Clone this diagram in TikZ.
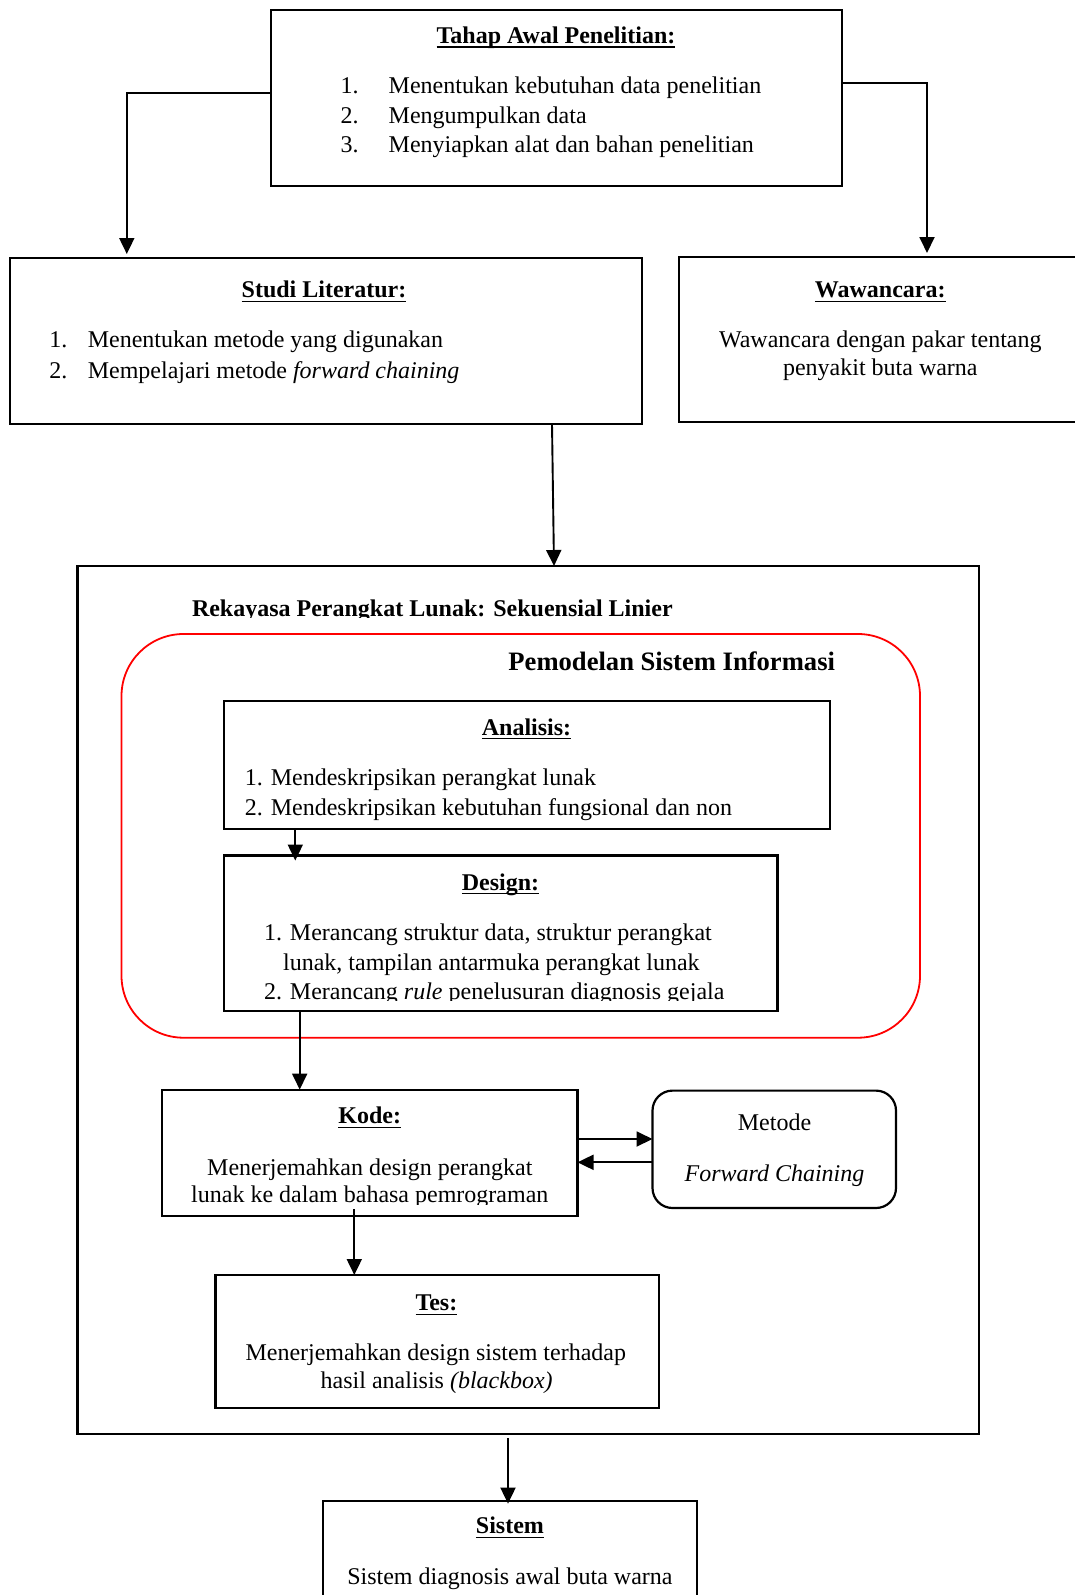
\documentclass[tikz,border=0pt]{standalone}
\usepackage{fontspec}
\setmainfont{Liberation Serif}
\usetikzlibrary{arrows.meta}

% one unit = one pixel of the layout grid, y runs downwards
\tikzset{
  x=0.5pt, y=-0.5pt,
  box/.style={draw, line width=1.1pt, inner sep=0pt, outer sep=0pt},
  roundbox/.style={box, rounded corners=10pt},
  groupbox/.style={draw=red, line width=0.9pt, rounded corners=31pt, inner sep=0pt, outer sep=0pt},
  txt/.style={inner sep=0pt, outer sep=0pt, anchor=base, font=\fontsize{12}{14}\selectfont},
  ltxt/.style={txt, anchor=base west},
  ttl/.style={txt, font=\fontsize{12}{14}\selectfont\bfseries},
  uline/.style={line width=0.75pt},
  arr/.style={line width=0.95pt, -{Triangle[length=8pt,width=7.5pt]}},
}

\newcommand\headline[4]{%
  \node[ttl] (#1) at (#2,#3) {#4};
  \draw[uline] ([yshift=-1.8pt]#1.base west) -- ([yshift=-1.8pt]#1.base east);}

\begin{document}
\begin{tikzpicture}
\useasboundingbox (0,0) rectangle (1075,1595);

% ---------- boxes ----------
\node[box, minimum width=285.5pt, minimum height=88pt]   (tahap)    at (556.5,98) {};
\node[box, minimum width=316pt,   minimum height=83pt]   (studi)    at (325.6,341) {};
\node[box, minimum width=208.15pt,minimum height=82.5pt] (wawan)    at (886.85,339.5) {};
\node[box, minimum width=450.75pt,minimum height=434pt]  (rpl)      at (528.25,1000) {};
\node[groupbox, minimum width=399.25pt, minimum height=201.85pt] (model) at (520.75,835.85) {};
\node[box, minimum width=303pt,   minimum height=64pt]   (analisis) at (527,765) {};
\node[box, minimum width=276.75pt,minimum height=77.75pt](design)   at (500.75,933.25) {};
\node[box, minimum width=207.75pt,minimum height=63.2pt] (kode)     at (369.75,1152.8) {};
\node[roundbox, minimum width=121.75pt, minimum height=58.7pt] (metode) at (774.25,1149.3) {};
\node[box, minimum width=221.6pt, minimum height=66.5pt] (tes)      at (437,1341.5) {};
\node[box, minimum width=186.85pt,minimum height=62pt]   (sistem)   at (510.15,1563) {};

% ---------- Tahap Awal Penelitian ----------
\headline{tahapT}{556}{43.3}{Tahap Awal Penelitian:}
\node[ltxt] (tahap1) at (340.7,94)    {\makebox[24pt][l]{1.}Menentukan kebutuhan data penelitian};
\node[ltxt] (tahap2) at (340.7,123.3) {\makebox[24pt][l]{2.}Mengumpulkan data};
\node[ltxt] (tahap3) at (340.7,152.7) {\makebox[24pt][l]{3.}Menyiapkan alat dan bahan penelitian};

% ---------- Studi Literatur ----------
\headline{studiT}{324}{297.7}{Studi Literatur:}
\node[ltxt] (studi1) at (49.4,347.5) {\makebox[19.2pt][l]{1.}Menentukan metode yang digunakan};
\node[ltxt] (studi2) at (49.4,378)   {\makebox[19.2pt][l]{2.}Mempelajari metode \textit{forward chaining}};

% ---------- Wawancara ----------
\headline{wawanT}{880.3}{297.7}{Wawancara:}
\node[txt] (wawan1) at (880.3,347) {Wawancara dengan pakar tentang};
\node[txt] (wawan2) at (880.3,375) {penyakit buta warna};

% ---------- Rekayasa Perangkat Lunak ----------
\begin{scope}
  \clip (0,560) rectangle (1075,617);
  \node[ltxt, font=\fontsize{12}{14}\selectfont\bfseries] (rplT) at (192,616.7)
    {Rekayasa Perangkat Lunak: Sekuensial Linier};
\end{scope}
\node[txt, anchor=base east, font=\fontsize{13.3}{16}\selectfont\bfseries] (modelT) at (835,670)
  {Pemodelan Sistem Informasi};

% ---------- Analisis ----------
\headline{analisisT}{526.5}{735}{Analisis:}
\node[ltxt] (analisis1) at (244.8,785) {1. Mendeskripsikan perangkat lunak};
\node[ltxt] (analisis2) at (244.8,815) {2. Mendeskripsikan kebutuhan fungsional dan non};

% ---------- Design ----------
\headline{designT}{500.5}{890}{Design:}
\node[ltxt] (design1) at (264,940)   {1. Merancang struktur data, struktur perangkat};
\node[ltxt] (design2) at (283.1,970) {lunak, tampilan antarmuka perangkat lunak};
\begin{scope}
  \clip (0,975) rectangle (1075,1000.5);
  \node[ltxt] (design3) at (264,999.3) {2. Merancang \textit{rule} penelusuran diagnosis gejala};
\end{scope}

% ---------- Kode ----------
\headline{kodeT}{369.8}{1123.9}{Kode:}
\node[txt] (kode1) at (369.8,1175.2) {Menerjemahkan design perangkat};
\begin{scope}
  \clip (0,1180) rectangle (1075,1204.5);
  \node[txt] (kode2) at (369.8,1202.8) {lunak ke dalam bahasa pemrograman};
\end{scope}

% ---------- Metode ----------
\node[txt] (metode1) at (774.5,1130.3) {Metode};
\node[txt] (metode2) at (774.5,1181.6) {\textit{Forward Chaining}};

% ---------- Tes ----------
\headline{tesT}{436.4}{1310.8}{Tes:}
\node[txt] (tes1) at (435.8,1360.4) {Menerjemahkan design sistem terhadap};
\node[txt] (tes2) at (436.7,1388.7) {hasil analisis \textit{(blackbox)}};

% ---------- Sistem ----------
\headline{sistemT}{509.9}{1533.8}{Sistem}
\node[txt] (sistem1) at (509.9,1584) {Sistem diagnosis awal buta warna};

% ---------- connectors ----------
\coordinate (cl) at (126.8,92.7);
\coordinate (cr) at (927,82.7);
\draw[arr, shorten >=2pt] (tahap.west |- cl) -| (studi.north -| cl);
\draw[arr, shorten >=2pt] (tahap.east |- cr) -| (wawan.north -| cr);

\coordinate (s1) at (552,0);
\coordinate (s2) at (554,0);
\draw[arr] (studi.south -| s1) -- (rpl.north -| s2);

\coordinate (a1) at (295.3,0);
\draw[arr, shorten >=-2.5pt] (analisis.south -| a1) -- (design.north -| a1);

\coordinate (d1) at (299.7,0);
\draw[arr] (design.south -| d1) -- (kode.north -| d1);

\coordinate (k1) at (0,1139);
\coordinate (k2) at (0,1162.3);
\draw[arr] (kode.east |- k1) -- (metode.west |- k1);
\draw[arr] (metode.west |- k2) -- (kode.east |- k2);

\coordinate (k3) at (354.3,0);
\draw[arr, shorten <=-3.5pt] (kode.south -| k3) -- (tes.north -| k3);

\coordinate (o1) at (508,0);
\draw[arr, shorten <=2pt, shorten >=-1.3pt] (rpl.south -| o1) -- (sistem.north -| o1);
\end{tikzpicture}
\end{document}
